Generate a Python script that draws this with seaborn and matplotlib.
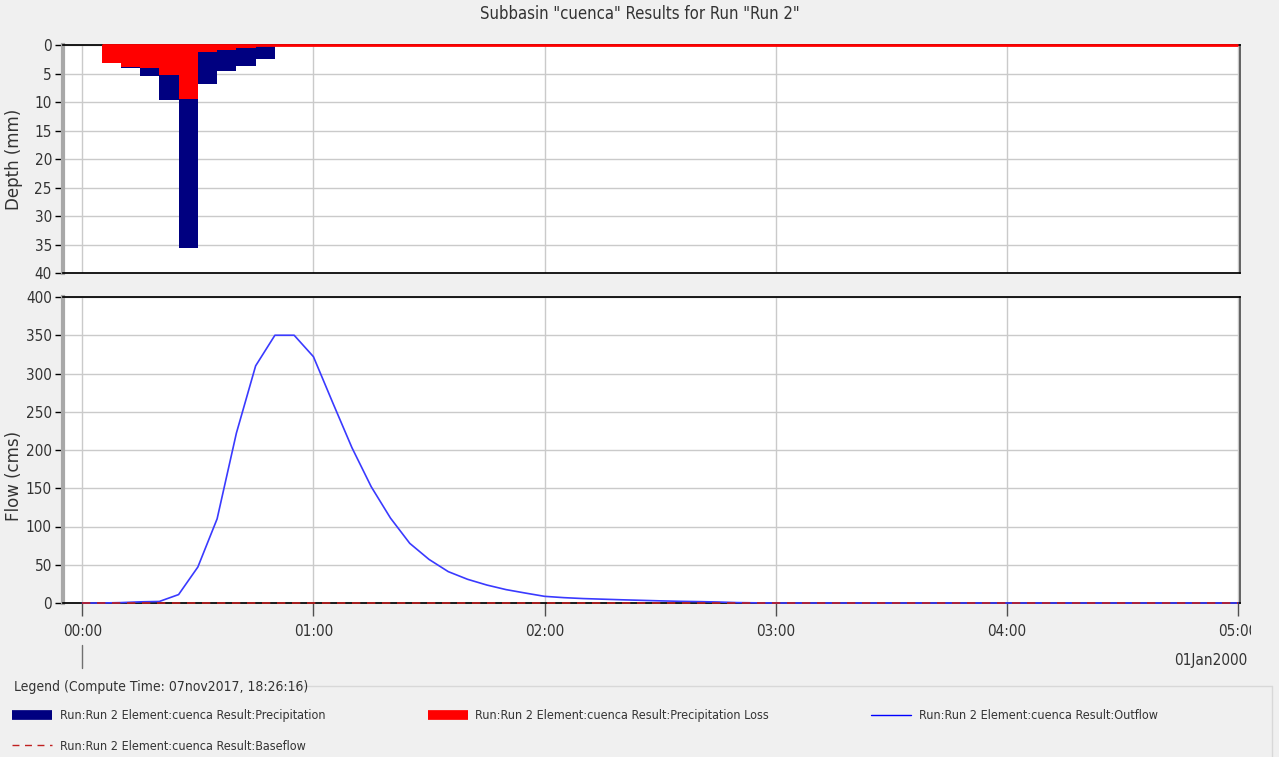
import numpy as np
import pandas as pd
import seaborn as sns
import matplotlib.pyplot as plt
from matplotlib.lines import Line2D
from matplotlib.transforms import Bbox, blended_transform_factory

# Daten (Minuten ab 00:00)
precip_end_min = [10, 15, 20, 25, 30, 35, 40, 45, 50]
precip_mm = [3.1, 4.0, 5.5, 9.6, 35.7, 6.9, 4.6, 3.6, 2.4]
loss_mm = [3.1, 3.8, 4.1, 5.3, 9.4, 1.2, 0.8, 0.5, 0.2]

flow_time_min = np.arange(0, 305, 5)
outflow_cms = [0, 0, 0.5, 1.5, 2, 11, 47, 110, 222, 310, 350, 350, 322, 262, 203, 152,
               111, 78, 57, 41, 31, 23.5, 17.5, 13, 8.7, 7, 5.8, 5, 4.2, 3.5, 2.8, 2.2,
               1.8, 1.3, 0.5, 0.2] + [0] * 25
baseflow_cms = np.zeros(len(flow_time_min))

hour_ticks = [0, 60, 120, 180, 240, 300]
hour_labels = ['00:00', '01:00', '02:00', '03:00', '04:00', '05:00']

navy = '#000080'
red = '#ff0000'
blue = '#3a3aff'
base_col = '#c02020'
grid_col = '#cacaca'
txt_col = '#333333'

sns.set_theme(style='white')
plt.rcParams['font.family'] = ['DejaVu Sans']
plt.rcParams['font.stretch'] = 'condensed'

W, H = 1279, 757
fig = plt.figure(figsize=(W / 100, H / 100), dpi=100, facecolor='#f0f0f0')
ax1 = fig.add_axes([63 / W, 1 - 273 / H, 1177 / W, 228 / H])
ax2 = fig.add_axes([63 / W, 1 - 603 / H, 1177 / W, 306 / H])

# Niederschlag / Verlust als Balken
step = 5
bars = pd.DataFrame({'mid': np.array(precip_end_min, dtype=float) - step / 2,
                     'precip': precip_mm, 'loss': loss_mm})
edges = list(np.array(precip_end_min, dtype=float) - step) + [float(precip_end_min[-1])]
sns.histplot(data=bars, x='mid', weights='precip', bins=edges, color=navy, alpha=1,
             linewidth=0, ax=ax1, zorder=3)
sns.histplot(data=bars, x='mid', weights='loss', bins=edges, color=red, alpha=1,
             linewidth=0, ax=ax1, zorder=4)
ax1.hlines(0, edges[0], flow_time_min[-1], color=red, lw=2, zorder=5, clip_on=False)

# Abfluss
sns.lineplot(x=flow_time_min, y=outflow_cms, color=blue, lw=1.2, ax=ax2, zorder=3)
sns.lineplot(x=flow_time_min, y=baseflow_cms, color=base_col, lw=1.2, ax=ax2,
             zorder=4, linestyle=(0, (5, 4)))
for ln in ax2.lines:
    ln.set_clip_on(False)

for ax in (ax1, ax2):
    ax.set_facecolor('white')
    ax.set_xlim(-5, 300.5)
    ax.set_xticks(hour_ticks)
    ax.grid(True, color=grid_col, lw=1, zorder=0)
    ax.set_axisbelow(True)
    ax.tick_params(axis='y', direction='out', length=6, width=1, color='black',
                   labelsize=11, labelcolor=txt_col, pad=2, left=True)
    ax.spines['left'].set_color('#a8a8a8')
    ax.spines['left'].set_linewidth(3)
    ax.spines['right'].set_color('#505050')
    ax.spines['bottom'].set_color('black')
    ax.spines['top'].set_color('black')
    for s in ax.spines.values():
        s.set_zorder(2)

ax1.set_ylim(40, 0)
ax1.set_yticks(range(0, 45, 5))
ax1.tick_params(axis='x', length=0, labelbottom=False)
ax1.set_xlabel('')
ax1.set_ylabel('Depth (mm)', fontstretch='normal', fontsize=12, color=txt_col)
ax1.yaxis.set_label_coords(-0.034, 0.5)

ax2.set_ylim(0, 400)
ax2.set_yticks(range(0, 450, 50))
ax2.set_xticklabels(hour_labels)
ax2.tick_params(axis='x', direction='out', length=9, width=1, color='#505050',
                labelsize=11, labelcolor=txt_col, pad=6, bottom=True)
ax2.set_xlabel('')
ax2.set_ylabel('Flow (cms)', fontstretch='normal', fontsize=12, color=txt_col)
ax2.yaxis.set_label_coords(-0.034, 0.415)

# letzte Beschriftung abgeschnitten wie im Original
last = ax2.get_xticklabels()[-1]
last.set_clip_box(Bbox([[0, 0], [1251, H]]))
last.set_clip_on(True)

trans = blended_transform_factory(ax2.transData, ax2.transAxes)
ax2.plot([0, 0], [-0.137, -0.212], color='#707070', lw=1, transform=trans, clip_on=False)

fig.text(0.5, 1 - 14 / H, 'Subbasin "cuenca" Results for Run "Run 2"', ha='center',
         va='center', fontsize=12, color=txt_col)
fig.text(1247 / W, 1 - 660 / H, '01Jan2000', ha='right', va='center', fontsize=11,
         color=txt_col)

# Legende
fig.text(14 / W, 1 - 687 / H, 'Legend (Compute Time: 07nov2017, 18:26:16)', ha='left',
         va='center', fontsize=10, color=txt_col)
fig.add_artist(Line2D([282 / W, 1272 / W], [1 - 686 / H, 1 - 686 / H], color='#d8d8d8', lw=1))
fig.add_artist(Line2D([1272 / W, 1272 / W], [1 - 686 / H, 0], color='#d8d8d8', lw=1))

handles = [Line2D([], [], color=navy, lw=7, solid_capstyle='butt'),
           Line2D([], [], color=base_col, lw=1, linestyle=(0, (5, 4))),
           Line2D([], [], color=red, lw=7, solid_capstyle='butt'),
           Line2D([], [], color='#0000ff', lw=1)]
labels = ['Run:Run 2 Element:cuenca Result:Precipitation',
          'Run:Run 2 Element:cuenca Result:Baseflow',
          'Run:Run 2 Element:cuenca Result:Precipitation Loss',
          'Run:Run 2 Element:cuenca Result:Outflow']
leg = fig.legend(handles, labels, ncol=3, loc='upper left',
                 bbox_to_anchor=(12 / W, 1 - 709 / H), frameon=False, fontsize=9,
                 handlelength=3.2, handletextpad=0.6, columnspacing=8.2,
                 labelspacing=1.4, borderpad=0, borderaxespad=0)
for t in leg.get_texts():
    t.set_color(txt_col)

fig.savefig('out.png', dpi=100, facecolor=fig.get_facecolor())
